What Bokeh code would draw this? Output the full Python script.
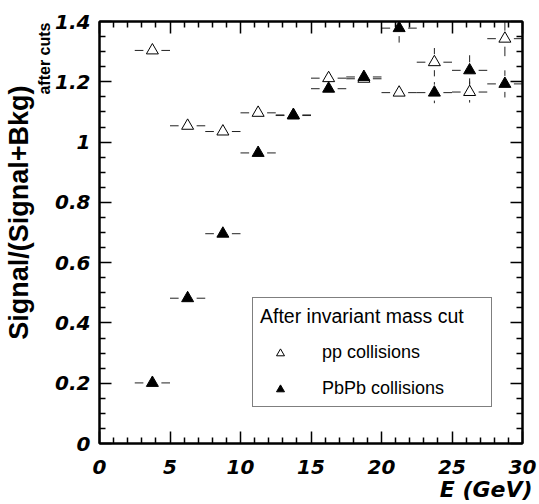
import numpy as np
from bokeh.plotting import figure
from bokeh.models import (Range1d, LinearAxis, FixedTicker, CustomJSTickFormatter,
                          Legend, LegendItem, Title, ColumnDataSource)
from bokeh.embed import file_html
from bokeh.resources import INLINE

# ---------------- data ----------------
energy = [3.75, 6.25, 8.75, 11.25, 13.75, 16.25, 18.75, 21.25, 23.75, 26.25, 28.75]
energy_halfwidth = [1.25, 1.25, 1.25, 1.25, 1.25, 1.25, 1.25, 1.25, 1.25, 1.25, 1.25]
pp_ratio = [1.304, 1.054, 1.035, 1.097, 1.090, 1.212, 1.210, 1.164, 1.265, 1.166, 1.343]
pp_err = [0.0, 0.0, 0.0, 0.0, 0.0, 0.02, 0.02, 0.02, 0.047, 0.035, 0.058]
pbpb_ratio = [0.201, 0.482, 0.696, 0.964, 1.088, 1.177, 1.216, 1.378, 1.164, 1.238, 1.193]
pbpb_err = [0.0, 0.0, 0.0, 0.0, 0.0, 0.01, 0.02, 0.048, 0.035, 0.05, 0.045]

x_major_ticks = [0, 5, 10, 15, 20, 25, 30]
x_minor_ticks = [1, 2, 3, 4, 6, 7, 8, 9, 11, 12, 13, 14, 16, 17, 18, 19, 21, 22, 23, 24,
                 26, 27, 28, 29]
y_major_ticks = [0.0, 0.2, 0.4, 0.6, 0.8, 1.0, 1.2, 1.4]
y_minor_ticks = [0.05, 0.1, 0.15, 0.25, 0.3, 0.35, 0.45, 0.5, 0.55, 0.65, 0.7, 0.75,
                 0.85, 0.9, 0.95, 1.05, 1.1, 1.15, 1.25, 1.3, 1.35]

series_names = ["pp collisions", "PbPb collisions"]
legend_title = "After invariant mass cut"
x_label = "E (GeV)"
y_label_main = "Signal/(Signal+Bkg)"
y_label_sub = "after cuts"

# ---------------- layout ----------------
W, H = 539, 504
FL, FR, FT, FB = 99, 522, 21, 443
XMIN, XMAX, YMIN, YMAX = 0.0, 30.0, 0.0, 1.4
PXX = (FR - FL) / (XMAX - XMIN)
PXY = (FB - FT) / (YMAX - YMIN)

p = figure(width=W, height=H, x_range=Range1d(XMIN, XMAX), y_range=Range1d(YMIN, YMAX),
           output_backend="svg", toolbar_location=None,
           min_border_left=FL, min_border_right=W - FR, min_border_top=FT,
           min_border_bottom=H - FB, background_fill_color="white",
           border_fill_color="white")
p.grid.visible = False
p.outline_line_color = "black"
p.outline_line_width = 2

TICK_FONT = "DejaVu Sans"
LABEL_FONT = "Liberation Sans"
fmt = CustomJSTickFormatter(code="return tick.toFixed(1).replace(/\\.0$/, '');")
blank = CustomJSTickFormatter(code="return '';")


def style_axis(ax, labels=True):
    ax.axis_line_width = 2
    ax.axis_line_color = "black"
    ax.major_tick_in = 12
    ax.major_tick_out = 0
    ax.minor_tick_in = 6
    ax.minor_tick_out = 0
    ax.major_tick_line_width = 1.5
    ax.minor_tick_line_width = 1.5
    ax.major_tick_line_color = "black"
    ax.minor_tick_line_color = "black"
    if labels:
        ax.formatter = fmt
        ax.major_label_text_font = TICK_FONT
        ax.major_label_text_font_style = "bold italic"
        ax.major_label_text_font_size = "20px"
        ax.major_label_text_color = "black"
    else:
        ax.formatter = blank
        ax.major_label_text_font_size = "1px"
        ax.major_label_standoff = 0


xt = FixedTicker(ticks=x_major_ticks, minor_ticks=x_minor_ticks)
yt = FixedTicker(ticks=y_major_ticks, minor_ticks=y_minor_ticks)

p.xaxis.ticker = xt
p.yaxis.ticker = yt
style_axis(p.xaxis[0])
style_axis(p.yaxis[0])
p.xaxis.major_label_standoff = 16
p.yaxis.major_label_standoff = 9

top_ax = LinearAxis(ticker=FixedTicker(ticks=x_major_ticks, minor_ticks=x_minor_ticks))
right_ax = LinearAxis(ticker=FixedTicker(ticks=y_major_ticks, minor_ticks=y_minor_ticks))
style_axis(top_ax, labels=False)
style_axis(right_ax, labels=False)
p.add_layout(top_ax, "above")
p.add_layout(right_ax, "right")

# ---------------- error bars with marker gaps ----------------
GAP_X = 9 / PXX
GAP_Y = 8 / PXY
ERR_COLOR = "#222222"


def error_segments(x, y, xe, ye):
    x = np.asarray(x, float); y = np.asarray(y, float)
    xe = np.asarray(xe, float); ye = np.asarray(ye, float)
    x0 = list(x - xe) + list(x + GAP_X)
    x1 = list(x - GAP_X) + list(x + xe)
    y0 = list(y) + list(y)
    y1 = list(y) + list(y)
    m = ye > GAP_Y
    xv = x[m]; yv = y[m]; ev = ye[m]
    x0 += list(xv) + list(xv)
    x1 += list(xv) + list(xv)
    y0 += list(yv + GAP_Y) + list(yv - ev)
    y1 += list(yv + ev) + list(yv - GAP_Y)
    return dict(x0=x0, x1=x1, y0=y0, y1=y1)


p.segment(source=ColumnDataSource(error_segments(energy, pp_ratio, energy_halfwidth, pp_err)),
          x0="x0", y0="y0", x1="x1", y1="y1", line_color=ERR_COLOR, line_width=1)
p.segment(source=ColumnDataSource(error_segments(energy, pbpb_ratio, energy_halfwidth, pbpb_err)),
          x0="x0", y0="y0", x1="x1", y1="y1", line_color=ERR_COLOR, line_width=1)

r_pp = p.scatter(energy, pp_ratio, marker="triangle", size=12, line_color="black",
                 line_width=1, fill_color="white", fill_alpha=0.0)
r_pb = p.scatter(energy, pbpb_ratio, marker="triangle", size=12, line_color="black",
                 line_width=1, fill_color="black")

# ---------------- legend ----------------
leg = Legend(items=[LegendItem(label=series_names[0], renderers=[r_pp]),
                    LegendItem(label=series_names[1], renderers=[r_pb])],
             title=legend_title, location=(252 - FL, FB - 407), margin=0,
             padding=7, spacing=15, glyph_width=40, glyph_height=20,
             label_standoff=22, label_width=162, label_height=20, title_standoff=14,
             title_text_font=LABEL_FONT, title_text_font_style="normal",
             title_text_font_size="19.5px", title_text_color="black",
             label_text_font=LABEL_FONT, label_text_font_size="18px",
             label_text_color="black", border_line_color="black", border_line_width=1,
             background_fill_color="white", background_fill_alpha=1.0)
p.add_layout(leg)

# ---------------- axis titles (as side-panel titles) ----------------
p.add_layout(Title(text=x_label, align="right", vertical_align="top", offset=-10, standoff=0,
                   text_font=TICK_FONT, text_font_style="bold italic", text_font_size="22px",
                   text_color="black"), "below")
p.add_layout(Title(text=y_label_sub, align="right", vertical_align="bottom", offset=1,
                   standoff=0, text_font=LABEL_FONT, text_font_style="bold",
                   text_font_size="16px", text_color="black"), "left")
p.add_layout(Title(text=y_label_main, align="right", vertical_align="bottom", offset=64,
                   standoff=0, text_font=LABEL_FONT, text_font_style="bold",
                   text_font_size="27px", text_color="black"), "left")

open("out.html", "w").write(file_html(p, INLINE))
